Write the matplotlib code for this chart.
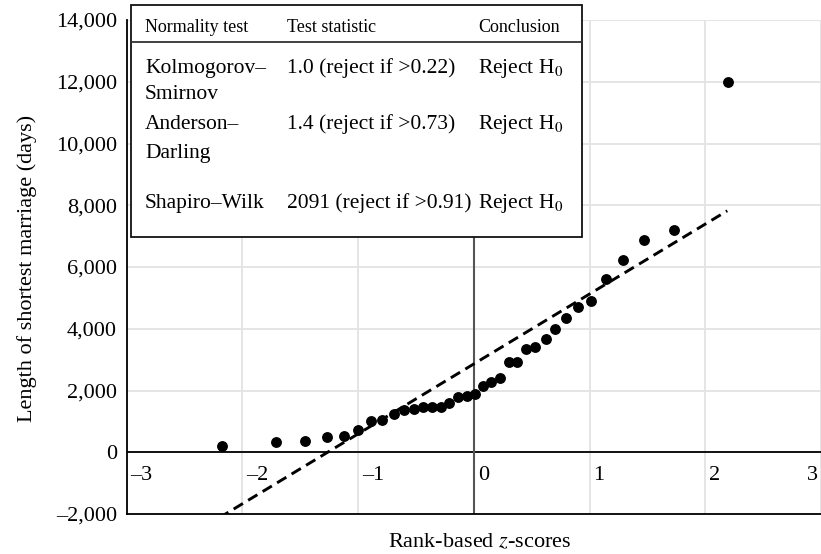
import matplotlib
matplotlib.use("Agg")
import matplotlib.pyplot as plt
from matplotlib.patches import Rectangle
from matplotlib.lines import Line2D
import numpy as np

# rank-based z-scores and marriage lengths (days)
z_scores = [-2.18, -1.71, -1.46, -1.27, -1.12, -1.00, -0.89, -0.79, -0.69,
            -0.60, -0.52, -0.44, -0.36, -0.28, -0.21, -0.14, -0.06, 0.01,
            0.08, 0.15, 0.23, 0.30, 0.37, 0.45, 0.53, 0.62, 0.70, 0.80,
            0.90, 1.01, 1.14, 1.29, 1.47, 1.73, 2.20]
days = [204, 324, 366, 496, 518, 735, 1005, 1047, 1253,
        1361, 1393, 1458, 1458, 1458, 1610, 1804, 1826, 1885,
        2139, 2279, 2398, 2916, 2916, 3328, 3393, 3672, 3976, 4332,
        4699, 4893, 5616, 6222, 6880, 7184, 11990]

# normal reference line (mean, sd) and its z range
fit_mean = 2860
fit_sd = 2265
fit_z = [-2.2, 2.19]

x_ticks = [-3, -2, -1, 0, 1, 2, 3]
y_ticks = [-2000, 0, 2000, 4000, 6000, 8000, 10000, 12000, 14000]

table_header = ["Normality test", "Test statistic", "Conclusion"]
test_names = ["Kolmogorov–\nSmirnov", "Anderson–\nDarling", "Shapiro–Wilk"]
test_stats = ["1.0 (reject if >0.22)", "1.4 (reject if >0.73)", "2091 (reject if >0.91)"]
conclusions = ["Reject H$_0$", "Reject H$_0$", "Reject H$_0$"]

plt.rcParams['font.family'] = ['Liberation Serif', 'DejaVu Serif']
plt.rcParams['mathtext.fontset'] = 'stix'

W, H = 821, 554
fig = plt.figure(figsize=(W / 100, H / 100), dpi=100)


def px(x, y):
    return x / W, 1 - y / H


ax = fig.add_axes([126.6 / W, 1 - 514 / H, 1 - 126.6 / W, (514 - 20) / H])
ax.set_xlim(-3, 3)
ax.set_ylim(-2000, 14000)

ax.set_xticks(x_ticks)
ax.set_yticks(y_ticks)
ax.set_xticklabels([])
ax.set_yticklabels([f"{v:,}".replace('-', '\u2013') for v in y_ticks])
ax.tick_params(axis='both', length=0)
ax.tick_params(axis='y', pad=7, labelsize=16)
ax.grid(True, color='#e3e3e3', lw=1.3, zorder=0)
ax.set_axisbelow(True)

for s in ['top', 'right']:
    ax.spines[s].set_visible(False)
for s in ['left', 'bottom']:
    ax.spines[s].set_linewidth(1.3)

ax.axhline(0, color='black', lw=1.3, zorder=2)
ax.axvline(0, color='#555555', lw=1.5, zorder=2)

# x tick labels sit just under the zero line
for i, t in enumerate(x_ticks):
    last = i == len(x_ticks) - 1
    ax.annotate(str(t).replace('-', '\u2013'), (t, 0),
                xytext=(-3 if last else 4, -23), textcoords='offset pixels',
                ha='right' if last else 'left', va='center', fontsize=16)

line_z = np.array(fit_z)
ax.plot(line_z, fit_mean + fit_sd * line_z, color='black', lw=2.1,
        dashes=(3.7, 2.1), zorder=3)
ax.plot(z_scores, days, 'o', color='black', ms=6.8, zorder=4, clip_on=False)

fig.text(*px(27, 268), "Length of shortest marriage (days)", rotation=90,
         ha='center', va='center', fontsize=16)
fig.text(*px(480, 543), "Rank-based $z$-scores", ha='center', va='center',
         fontsize=16)

# table box in the top-left
x0, x1, y0, y1 = 131, 582, 5, 237
fig.add_artist(Rectangle(px(x0, y1), (x1 - x0) / W, (y1 - y0) / H,
                         transform=fig.transFigure, fc='white', ec='#111111',
                         lw=1.3, zorder=5))
fig.add_artist(Line2D([x0 / W, x1 / W], [1 - 42 / H, 1 - 42 / H],
                      transform=fig.transFigure, color='#333333', lw=1.3,
                      zorder=6))

col_x = [145, 287, 478]
for cx, h in zip(col_x, table_header):
    fig.text(*px(cx, 32), h, ha='left', va='baseline', fontsize=13, zorder=7)

# baselines of each line inside the rows
row_lines_y = [[73, 99], [129, 158], [208]]
for name, stat, concl, ys in zip(test_names, test_stats, conclusions, row_lines_y):
    for part, yy in zip(name.split('\n'), ys):
        fig.text(*px(col_x[0], yy), part, ha='left', va='baseline',
                 fontsize=15.5, zorder=7)
    fig.text(*px(col_x[1], ys[0]), stat, ha='left', va='baseline',
             fontsize=15.5, zorder=7)
    fig.text(*px(col_x[2], ys[0]), concl, ha='left', va='baseline',
             fontsize=15.5, zorder=7)

fig.savefig("out.png", dpi=100)
